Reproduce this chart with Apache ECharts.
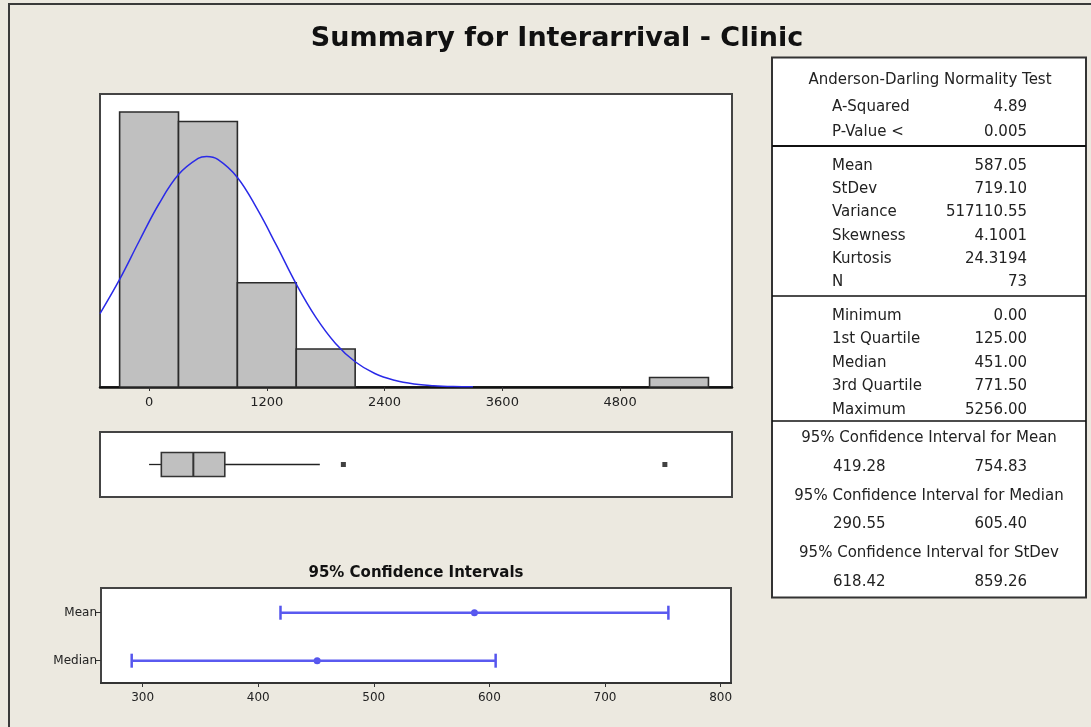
<!DOCTYPE html>
<html>
<head>
<meta charset="utf-8">
<title>Summary for Interarrival - Clinic</title>
<script src="https://cdn.jsdelivr.net/npm/echarts@6.0.0/dist/echarts.min.js"></script>
<style>
  html, body { margin: 0; padding: 0; background: #ece9e0; }
  #chart { width: 1091px; height: 727px; }
</style>
</head>
<body>
<div id="chart"></div>
<script>
// histogram (bin width 600)
var binCenters = [0, 600, 1200, 1800, 5400];
var binCounts = [29, 28, 11, 4, 1];
var binWidth = 600;
var histTicks = [0, 1200, 2400, 3600, 4800];

// fitted normal curve
var curveX = [-500, -300, -100, 100, 300, 500, 587, 700, 900, 1100, 1300, 1500, 1700, 1900, 2100, 2300, 2500, 2700, 2900, 3100, 3300];
var curveY = [7.75, 11.35, 15.4, 19.3, 22.4, 24.1, 24.3, 24.0, 22.1, 18.8, 14.9, 10.85, 7.35, 4.6, 2.66, 1.42, 0.71, 0.32, 0.14, 0.05, 0.02];

// boxplot
var boxLow = 0;
var boxQ1 = 125;
var boxMedian = 451;
var boxQ3 = 771.5;
var boxHigh = 1740;
var boxOutliers = [1980, 5256];

// 95% confidence intervals
var ciRows = ["Median", "Mean"];
var ciCenter = [451.0, 587.05];
var ciLow = [290.55, 419.28];
var ciHigh = [605.40, 754.83];
var ciTicks = [300, 400, 500, 600, 700, 800];

// summary table
var adLabels = ["A-Squared", "P-Value <"];
var adValues = ["4.89", "0.005"];
var momentLabels = ["Mean", "StDev", "Variance", "Skewness", "Kurtosis", "N"];
var momentValues = ["587.05", "719.10", "517110.55", "4.1001", "24.3194", "73"];
var quantLabels = ["Minimum", "1st Quartile", "Median", "3rd Quartile", "Maximum"];
var quantValues = ["0.00", "125.00", "451.00", "771.50", "5256.00"];
var intervalTitles = ["95% Confidence Interval for Mean", "95% Confidence Interval for Median", "95% Confidence Interval for StDev"];
var intervalLow = ["419.28", "290.55", "618.42"];
var intervalHigh = ["754.83", "605.40", "859.26"];

var font = "DejaVu Sans";
var textColor = "#222";
var blue = "#2a2ae8";

function plain(v) {
  return String(v);
}

function tableText(x, y, text, align) {
  return {
    type: "text",
    x: x,
    y: y,
    style: {
      text: text,
      fill: textColor,
      font: "15px '" + font + "'",
      align: align,
      verticalAlign: "middle",
    },
  };
}

function buildTable() {
  var els = [];
  els.push({
    type: "rect",
    shape: { x: 772, y: 57.5, width: 314, height: 540 },
    style: { fill: "#fff", stroke: "#333", lineWidth: 2 },
  });
  [[146, 2.2], [296, 1.6], [421, 1.6]].forEach(function (s) {
    els.push({
      type: "line",
      shape: { x1: 772, y1: s[0], x2: 1086, y2: s[0] },
      style: { stroke: "#111", lineWidth: s[1] },
    });
  });
  els.push(tableText(930, 80, "Anderson-Darling Normality Test", "center"));
  adLabels.forEach(function (l, i) {
    els.push(tableText(832, 107.5 + i * 24.5, l, "left"));
    els.push(tableText(1027, 107.5 + i * 24.5, adValues[i], "right"));
  });
  momentLabels.forEach(function (l, i) {
    els.push(tableText(832, 166 + i * 23.3, l, "left"));
    els.push(tableText(1027, 166 + i * 23.3, momentValues[i], "right"));
  });
  quantLabels.forEach(function (l, i) {
    els.push(tableText(832, 315.7 + i * 23.6, l, "left"));
    els.push(tableText(1027, 315.7 + i * 23.6, quantValues[i], "right"));
  });
  intervalTitles.forEach(function (t, i) {
    els.push(tableText(929, 438.5 + i * 57.2, t, "center"));
    els.push(tableText(833, 467.3 + i * 57.2, intervalLow[i], "left"));
    els.push(tableText(1027, 467.3 + i * 57.2, intervalHigh[i], "right"));
  });
  return els;
}

function renderBin(params, api) {
  var c = api.value(0);
  var n = api.value(1);
  var p0 = api.coord([c - binWidth / 2, n]);
  var p1 = api.coord([c + binWidth / 2, 0]);
  return {
    type: "rect",
    shape: { x: p0[0], y: p0[1], width: p1[0] - p0[0], height: p1[1] - p0[1] },
    style: { fill: "#c0c0c0", stroke: "#2b2b2b", lineWidth: 1.6 },
  };
}

function renderBox(params, api) {
  var lo = api.coord([api.value(0), 0.5]);
  var q1 = api.coord([api.value(1), 0.5]);
  var md = api.coord([api.value(2), 0.5]);
  var q3 = api.coord([api.value(3), 0.5]);
  var hi = api.coord([api.value(4), 0.5]);
  var h = 12;
  return {
    type: "group",
    children: [
      { type: "line", shape: { x1: lo[0], y1: lo[1], x2: q1[0], y2: q1[1] }, style: { stroke: "#222", lineWidth: 1.3 } },
      { type: "line", shape: { x1: q3[0], y1: q3[1], x2: hi[0], y2: hi[1] }, style: { stroke: "#222", lineWidth: 1.3 } },
      { type: "rect", shape: { x: q1[0], y: q1[1] - h, width: q3[0] - q1[0], height: 2 * h }, style: { fill: "#c0c0c0", stroke: "#333", lineWidth: 1.6 } },
      { type: "line", shape: { x1: md[0], y1: md[1] - h, x2: md[0], y2: md[1] + h }, style: { stroke: "#333", lineWidth: 2 } },
    ],
  };
}

var chart = echarts.init(document.getElementById("chart"));

var ciSeries = [];
ciRows.forEach(function (row, i) {
  var y = i + 1;
  ciSeries.push({
    type: "line",
    xAxisIndex: 2,
    yAxisIndex: 2,
    data: [[ciLow[i], y], [ciHigh[i], y]],
    symbol: "none",
    lineStyle: { color: "#5a5af0", width: 2.5 },
    silent: true,
  });
  ciSeries.push({
    type: "scatter",
    xAxisIndex: 2,
    yAxisIndex: 2,
    data: [[ciLow[i], y], [ciHigh[i], y]],
    symbol: "rect",
    symbolSize: [2.5, 14],
    itemStyle: { color: blue },
  });
  ciSeries.push({
    type: "scatter",
    xAxisIndex: 2,
    yAxisIndex: 2,
    data: [[ciCenter[i], y]],
    symbol: "circle",
    symbolSize: 7,
    itemStyle: { color: blue },
  });
});

chart.setOption({
  backgroundColor: "#ece9e0",
  animation: false,
  title: {
    text: "Summary for Interarrival - Clinic",
    left: 552,
    top: 20,
    textAlign: "center",
    textStyle: { fontFamily: font, fontWeight: "bold", fontSize: 27, color: "#111" },
  },
  graphic: [
    {
      type: "rect",
      shape: { x: 9, y: 4, width: 1110, height: 760 },
      style: { fill: "none", stroke: "#3a3a3a", lineWidth: 2 },
    },
    {
      type: "text",
      x: 416,
      y: 573,
      style: {
        text: "95% Confidence Intervals",
        font: "bold 15px '" + font + "'",
        fill: "#111",
        align: "center",
        verticalAlign: "middle",
      },
    },
  ].concat(buildTable()),
  grid: [
    { left: 100, top: 94, width: 632, height: 293, show: true, backgroundColor: "#fff", borderColor: "#444", borderWidth: 2 },
    { left: 100, top: 432, width: 632, height: 65, show: true, backgroundColor: "#fff", borderColor: "#444", borderWidth: 2 },
    { left: 101, top: 588, width: 630, height: 95, show: true, backgroundColor: "#fff", borderColor: "#444", borderWidth: 2 },
  ],
  xAxis: [
    {
      type: "value",
      gridIndex: 0,
      min: -500,
      max: 5940,
      splitLine: { show: false },
      axisLine: { lineStyle: { color: "#111", width: 2.5 } },
      axisTick: { customValues: histTicks, length: 4, lineStyle: { color: "#333" } },
      axisLabel: { customValues: histTicks, formatter: plain, margin: 9, fontFamily: font, fontSize: 13, color: textColor },
    },
    {
      type: "value",
      gridIndex: 1,
      min: -500,
      max: 5940,
      show: false,
    },
    {
      type: "value",
      gridIndex: 2,
      min: 264,
      max: 809,
      splitLine: { show: false },
      axisLine: { lineStyle: { color: "#333", width: 2 } },
      axisTick: { customValues: ciTicks, length: 4, lineStyle: { color: "#333" } },
      axisLabel: { customValues: ciTicks, formatter: plain, margin: 9, fontFamily: font, fontSize: 12, color: textColor },
    },
  ],
  yAxis: [
    { type: "value", gridIndex: 0, min: 0, max: 30.9, show: false },
    { type: "value", gridIndex: 1, min: 0, max: 1, show: false },
    {
      type: "value",
      gridIndex: 2,
      min: 0.535,
      max: 2.515,
      splitLine: { show: false },
      axisLine: { show: false },
      axisTick: { customValues: [1, 2], length: 6, lineStyle: { color: "#333" } },
      axisLabel: {
        customValues: [1, 2],
        margin: 4,
        fontFamily: font,
        fontSize: 12,
        color: textColor,
        formatter: function (v) {
          return ciRows[Math.round(v) - 1];
        },
      },
    },
  ],
  series: [
    {
      type: "custom",
      xAxisIndex: 0,
      yAxisIndex: 0,
      renderItem: renderBin,
      encode: { x: 0, y: 1 },
      data: binCenters.map(function (c, i) {
        return [c, binCounts[i]];
      }),
      z: 2,
    },
    {
      type: "line",
      xAxisIndex: 0,
      yAxisIndex: 0,
      data: curveX.map(function (x, i) {
        return [x, curveY[i]];
      }),
      smooth: 0.4,
      symbol: "none",
      clip: true,
      lineStyle: { color: blue, width: 1.5 },
      z: 3,
    },
    {
      type: "custom",
      xAxisIndex: 1,
      yAxisIndex: 1,
      renderItem: renderBox,
      encode: { x: [0, 1, 2, 3, 4] },
      data: [[boxLow, boxQ1, boxMedian, boxQ3, boxHigh]],
    },
    {
      type: "scatter",
      xAxisIndex: 1,
      yAxisIndex: 1,
      data: boxOutliers.map(function (v) {
        return [v, 0.5];
      }),
      symbol: "rect",
      symbolSize: 5,
      itemStyle: { color: "#111" },
    },
  ].concat(ciSeries),
});
</script>
</body>
</html>
